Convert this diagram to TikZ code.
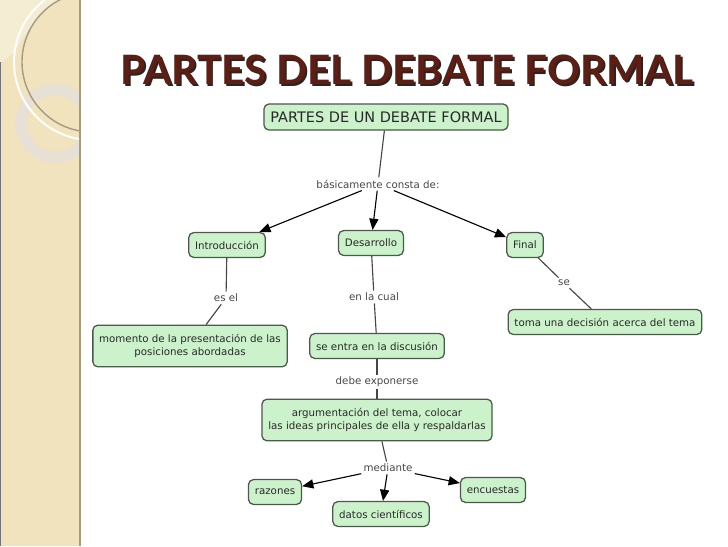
\documentclass[tikz,border=0pt]{standalone}
\usepackage{fontspec}
\setmainfont{DejaVu Sans}
\newfontfamily\titlefont{Lato}
\usepackage{tikz}
\usetikzlibrary{arrows.meta, positioning}
\definecolor{cmapfill}{RGB}{204,242,204}
\definecolor{cmapline}{RGB}{75,88,75}
\definecolor{cmaptext}{RGB}{40,40,40}
\definecolor{linkgray}{RGB}{70,70,70}
\definecolor{stripbeige}{RGB}{240,227,190}
\definecolor{stripedge}{RGB}{165,155,130}
\definecolor{titlebrown}{RGB}{95,30,20}
\newcommand{\shadowed}[1]{\makebox[0pt][l]{\hspace{1.4pt}\raisebox{-1.4pt}{\color{black!85}#1}}#1}
\tikzset{
  concept/.style={
    rectangle, rounded corners=3.5pt,
    draw=cmapline, fill=cmapfill, line width=0.9pt,
    text=cmaptext, align=center,
    font=\fontsize{7.3}{9.2}\selectfont,
    inner xsep=4.5pt, inner ysep=2pt, minimum height=0.62cm
  },
  twoline/.style={concept, minimum height=1.04cm},
  linklabel/.style={text=linkgray, font=\fontsize{7.3}{9}\selectfont, inner sep=1.5pt},
  link/.style={draw=linkgray, line width=0.8pt},
  linkarrow/.style={link, -{Triangle[length=8pt, width=6.5pt]}, color=black},
  titletext/.style={text=titlebrown, font=\titlefont\bfseries\fontsize{28.8}{31}\selectfont}
}
\begin{document}
\begin{tikzpicture}[x=0.025cm, y=-0.025cm]
  \useasboundingbox (0,0) rectangle (728,546);

  % Left strip of the slide
  \fill[stripbeige] (0,0) rectangle (80,546);
  \begin{scope}
    \clip (0,0) rectangle (80,546);
    \fill[white, opacity=0.35] (0,0) -- (0,62) .. controls (20,56) and (25,20) .. (60,0) -- cycle;
    \draw[stripedge!30, opacity=0.8, line width=8pt] (55,123) circle (34);
    \draw[white, line width=1.4pt] (92,62) circle (78);
    \draw[stripedge, line width=1pt] (92,62) circle (70);
  \end{scope}
  \draw[stripedge, line width=1pt] (80,0) -- (80,546);
  \draw[black!55, line width=1.2pt] (0.5,62) -- (0.5,546);

  % Title
  \node[titletext] (title) at (407,71) {\shadowed{PARTES DEL DEBATE FORMAL}};

  % Concepts
  \node[concept, font=\fontsize{10.3}{12}\selectfont, minimum height=0.65cm] (debate) at (386,117) {PARTES DE UN DEBATE FORMAL};
  \node[linklabel] (consta) at (378,184) {básicamente consta de:};
  \node[concept] (intro) at (227,245) {Introducción};
  \node[concept] (desarrollo) at (371,243) {Desarrollo};
  \node[concept] (final) at (525,245) {Final};

  \node[linklabel] (esel) at (226,298) {es el};
  \node[linklabel] (enlacual) at (374,297) {en la cual};
  \node[linklabel] (se) at (564,283) {se};

  \node[twoline] (momento) at (190,346) {momento de la presentación de las\\posiciones abordadas};
  \node[concept] (entra) at (377,346) {se entra en la discusión};
  \node[concept] (toma) at (605,322) {toma una decisión acerca del tema};

  \node[linklabel] (exponerse) at (377,382) {debe exponerse};
  \node[twoline] (argumento) at (377,420) {argumentación del tema, colocar\\las ideas principales de ella y respaldarlas};
  \node[linklabel] (mediante) at (388,468) {mediante};

  \node[concept] (razones) at (275,492) {razones};
  \node[concept] (datos) at (381,514) {datos científicos};
  \node[concept] (encuestas) at (493,490) {encuestas};

  % Links
  \draw[link] (debate) -- (consta);
  \draw[linkarrow] (consta) -- (intro);
  \draw[linkarrow] (consta) -- (desarrollo);
  \draw[linkarrow] (consta) -- (final);

  \draw[link] (intro) -- (esel);
  \draw[link] (esel) -- (momento);
  \draw[link] (desarrollo) -- (enlacual);
  \draw[link] (enlacual) -- (entra);
  \draw[link] (final) -- (se);
  \draw[link] (se) -- (toma);

  \draw[link] (entra) -- (exponerse);
  \draw[link] (exponerse) -- (argumento);
  \draw[link] (argumento) -- (mediante);
  \draw[linkarrow] (mediante) -- (razones);
  \draw[linkarrow] (mediante) -- (datos);
  \draw[linkarrow] (mediante) -- (encuestas);

\end{tikzpicture}
\end{document}
